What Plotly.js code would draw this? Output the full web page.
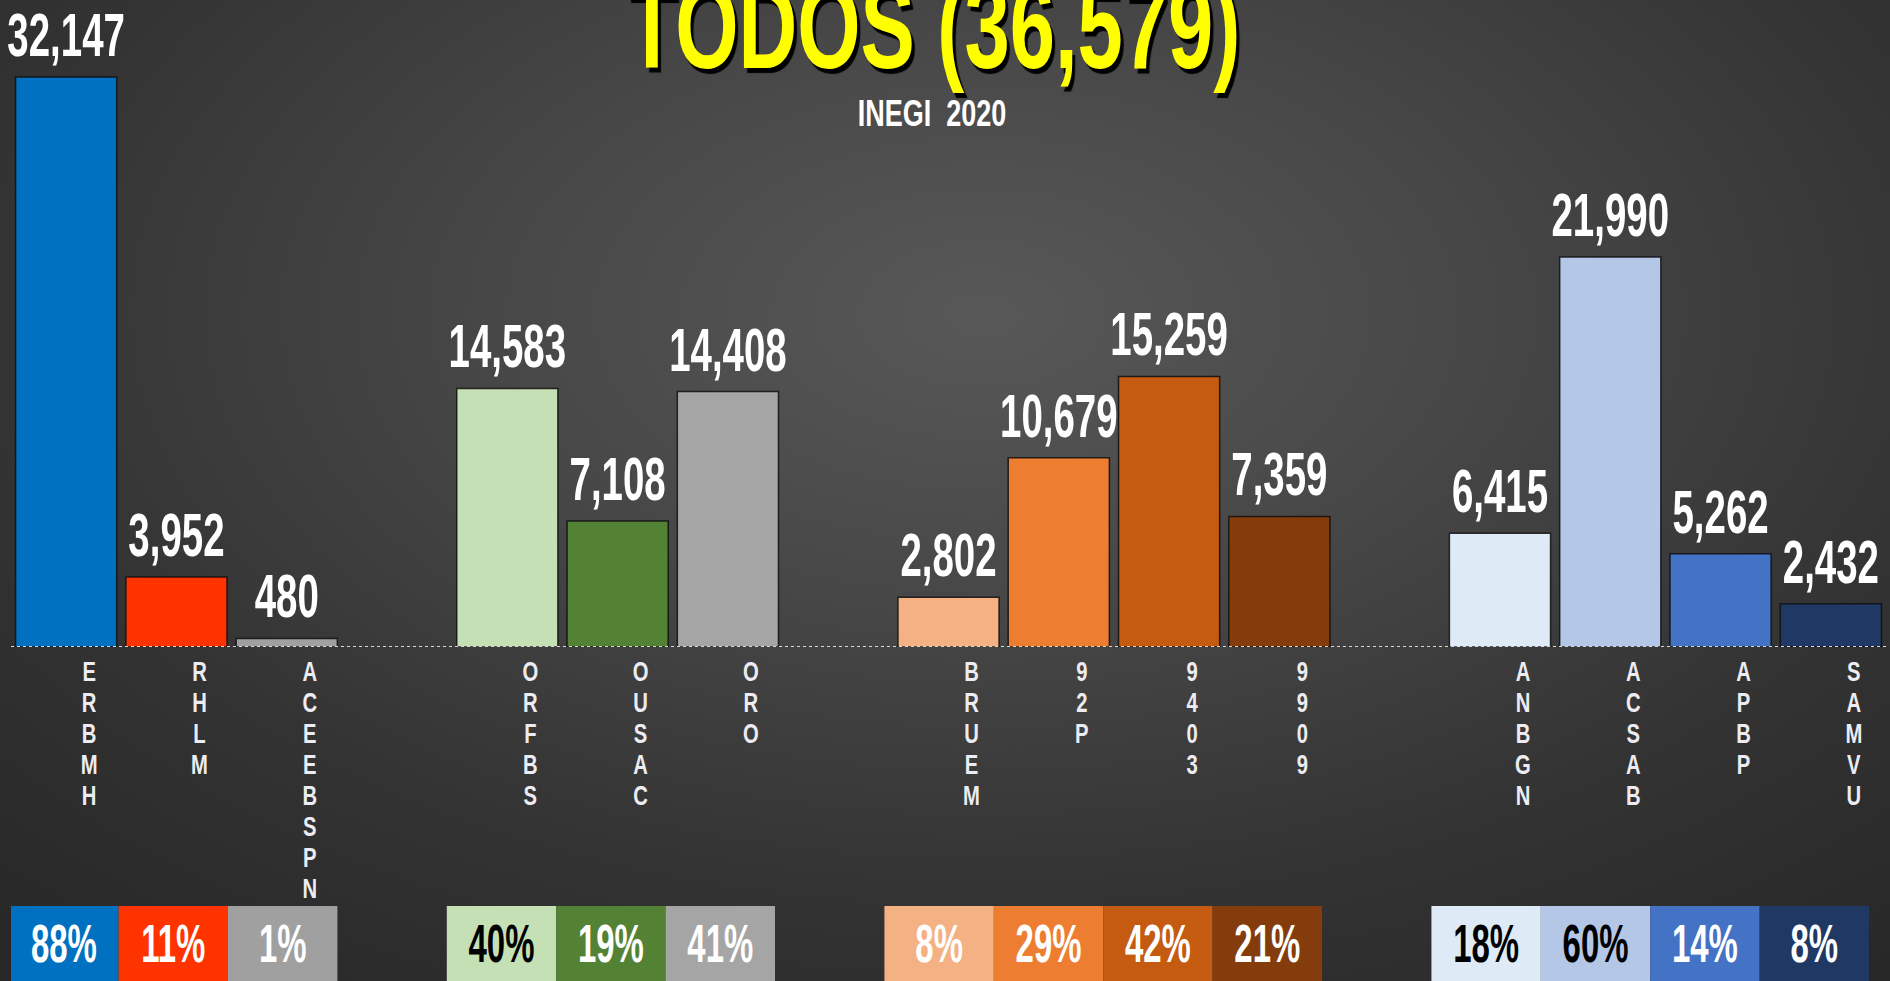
<!DOCTYPE html>
<html>
<head>
<meta charset="utf-8">
<script src="https://cdn.plot.ly/plotly-3.0.1.min.js"></script>
<style>
  html, body { margin:0; padding:0; width:1890px; height:981px; overflow:hidden; }
  body { background: radial-gradient(ellipse 75% 85% at 52% 32%, #585858 0%, #474747 35%, #333333 70%, #282828 100%); }
  #chart { width:1890px; height:981px; }
</style>
</head>
<body>
<div id="chart"></div>
<script>
// ---- data ----
const labels   = ["ERBMH","RHLM","ACEEBSPN","ORFBS","OUSAC","ORO","BRUEM","92P","9403","9909","ANBGN","ACSAB","APBP","SAMVU"];
const values   = [32147, 3952, 480, 14583, 7108, 14408, 2802, 10679, 15259, 7359, 6415, 21990, 5262, 2432];
const percents = ["88%","11%","1%","40%","19%","41%","8%","29%","42%","21%","18%","60%","14%","8%"];
const groupSizes = [3, 3, 4, 4];
const barColors = ["#0070C0","#FF3300","#A0A0A0","#C5E0B4","#548235","#A5A5A5","#F4B183","#ED7D31","#C55A11","#843C0C","#DEEBF7","#B4C7E7","#4472C4","#203864"];
const pctTextColors = ["#FFFFFF","#FFFFFF","#FFFFFF","#000000","#FFFFFF","#FFFFFF","#FFFFFF","#FFFFFF","#FFFFFF","#FFFFFF","#000000","#000000","#FFFFFF","#FFFFFF"];
const titleText = "TODOS (36,579)";
const subtitleText = "INEGI\u00a0\u00a02020";

// ---- build category order with spacer slots between groups ----
const cats = [];
let k = 0;
groupSizes.forEach((n, g) => {
  for (let i = 0; i < n; i++) cats.push(labels[k++]);
  if (g < groupSizes.length - 1) cats.push(" ".repeat(g + 1));
});
const stacked = labels.map(s => s.split("").join("<br>"));
const boxY = labels.map(() => 1);

const F = "'Liberation Sans', Arial, sans-serif";

const bars = {
  type: "bar", x: labels, y: values, xaxis: "x", yaxis: "y",
  marker: { color: barColors, line: { color: "rgba(15,15,15,0.85)", width: 1.5 } },
  texttemplate: "%{y:,}", textposition: "outside", textangle: 0,
  constraintext: "none", cliponaxis: false,
  textfont: { family: F, size: 62, color: "#FFFFFF", weight: "bold" },
  hoverinfo: "skip"
};
const boxes = {
  type: "bar", x: labels, y: boxY, width: 1, xaxis: "x2", yaxis: "y2",
  marker: { color: barColors, line: { width: 0 } },
  text: percents, textposition: "inside", insidetextanchor: "middle", textangle: 0,
  constraintext: "none",
  textfont: { family: F, size: 54, color: pctTextColors, weight: "bold" },
  hoverinfo: "skip"
};

const layout = {
  width: 1890, height: 981,
  margin: { l: 11, r: 4, t: 0, b: 0 },
  paper_bgcolor: "rgba(0,0,0,0)", plot_bgcolor: "rgba(0,0,0,0)",
  showlegend: false, bargap: 0.083,
  title: {
    text: titleText, xref: "container", yref: "container",
    x: 0.494, xanchor: "center", y: 0.9307, yanchor: "bottom",
    pad: { t: 0, b: 0, l: 0, r: 0 },
    font: { family: F, size: 120, color: "#FFFF00", weight: "bold", shadow: "4px 4px 1px #000000" }
  },
  xaxis: {
    type: "category", categoryorder: "array", categoryarray: cats, range: [-0.5, 16.5],
    anchor: "y", tickvals: labels, ticktext: stacked, tickangle: 0, ticks: "",
    tickfont: { family: F, size: 27, color: "#ECECF2", weight: "bold" },
    ticklabelshift: 23, ticklabelstandoff: 6,
    showgrid: false, zeroline: false, showline: false, automargin: false, fixedrange: true
  },
  yaxis: { domain: [0.3405, 1], range: [0, 36490], visible: false, showgrid: false, zeroline: false, fixedrange: true },
  xaxis2: { type: "category", categoryorder: "array", categoryarray: cats, range: [-0.4835, 16.655], anchor: "y2", visible: false, fixedrange: true },
  yaxis2: { domain: [0, 0.0765], range: [0, 1], visible: false, fixedrange: true },
  shapes: [{ type: "line", xref: "paper", yref: "y", x0: 0, x1: 1, y0: 0, y1: 0,
             line: { color: "#D8D8D8", width: 2, dash: "dot" } }],
  annotations: [{
    text: subtitleText, xref: "paper", yref: "paper", x: 0.491, y: 0.8614,
    xanchor: "center", yanchor: "bottom", showarrow: false,
    font: { family: F, size: 36, color: "#FFFFFF", weight: "bold" }
  }]
};

// narrow the glyphs (the original uses a condensed display face)
function condense(sel, sx, sy, anchor, shiftY) {
  document.querySelectorAll(sel).forEach(el => {
    const bb = el.getBBox();
    const cx = bb.x + bb.width / 2;
    const cy = anchor === "top" ? bb.y : anchor === "middle" ? bb.y + bb.height / 2 : bb.y + bb.height;
    const t = el.getAttribute("transform") || "";
    el.setAttribute("transform", t + " translate(" + cx + "," + (cy + (shiftY || 0)) + ") scale(" + sx + "," + sy + ") translate(" + (-cx) + "," + (-cy) + ")");
  });
}

Plotly.newPlot("chart", [bars, boxes], layout, { displayModeBar: false, staticPlot: true }).then(() => {
  // tighter stacking of the vertical category letters
  document.querySelectorAll(".xtick text").forEach(t => {
    t.querySelectorAll("tspan.line").forEach((ts, i) => ts.setAttribute("dy", (i * 1.15) + "em"));
  });
  condense(".xtick text", 0.75, 1, "top");
  condense(".bartext-outside", 0.62, 1, "bottom", -5);
  condense(".bartext-inside", 0.61, 1, "middle");
  condense(".gtitle", 0.678, 1, "bottom");
  condense(".annotation-text", 0.75, 1, "middle");
});
</script>
</body>
</html>
